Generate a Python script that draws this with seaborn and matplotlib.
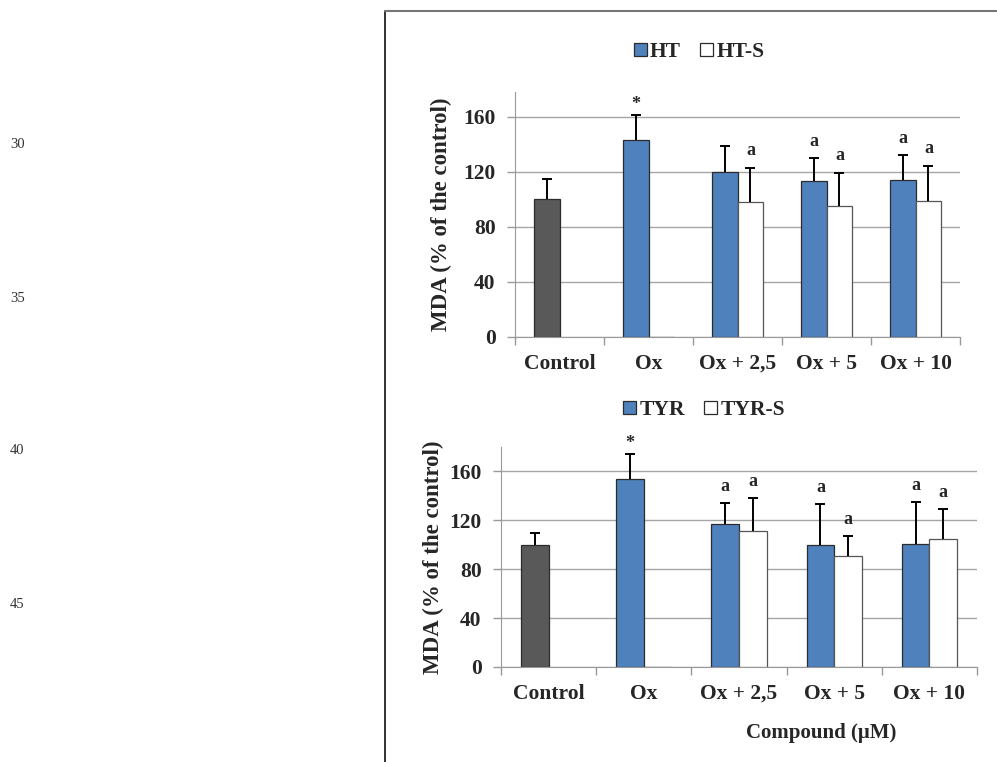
import numpy as np
import pandas as pd
import matplotlib
matplotlib.use('Agg')
import matplotlib.pyplot as plt
from matplotlib.lines import Line2D
import seaborn as sns

# valores (MDA, % do controle)
categorias = ['Control', 'Ox', 'Ox + 2,5', 'Ox + 5', 'Ox + 10']

ht_media = [100, 143, 120, 113, 114]
ht_erro = [15, 18.5, 18.5, 17, 18]
hts_media = [np.nan, 0, 98, 95, 99]
hts_erro = [np.nan, 0, 25, 24.5, 25.5]
ht_sig = ['', '*', '', 'a', 'a']
hts_sig = ['', '', 'a', 'a', 'a']

tyr_media = [100, 154, 117, 100, 101]
tyr_erro = [10, 20.5, 17, 33, 34]
tyrs_media = [np.nan, 0, 111, 91, 105]
tyrs_erro = [np.nan, 0, 27, 16, 24]
tyr_sig = ['', '*', 'a', 'a', 'a']
tyrs_sig = ['', '', 'a', 'a', 'a']

sns.set_style('white')
plt.rcParams['font.family'] = ['Liberation Serif', 'DejaVu Serif']
plt.rcParams['font.weight'] = 'bold'

AZUL = '#4F81BD'
CINZA = '#595959'


def monta_df(nomes, media_a, erro_a, media_b, erro_b, sig_a, sig_b):
    linhas = []
    for i, cat in enumerate(categorias):
        linhas.append([cat, nomes[0], media_a[i], erro_a[i], sig_a[i]])
        if not np.isnan(media_b[i]):
            linhas.append([cat, nomes[1], media_b[i], erro_b[i], sig_b[i]])
    return pd.DataFrame(linhas, columns=['trat', 'comp', 'mda', 'erro', 'sig'])


def painel(ax, df, nomes, ymax, leg_xy, ylab_x):
    sns.barplot(data=df, x='trat', y='mda', hue='comp', order=categorias,
                hue_order=nomes, palette=[AZUL, 'white'], width=0.58,
                dodge=True, errorbar=None, edgecolor='#2b2b2b', linewidth=0.9,
                saturation=1, ax=ax)
    for p in list(ax.patches):
        xc = p.get_x() + p.get_width() / 2
        i = int(round(xc))
        h = 0 if xc < i else 1
        linha = df[(df.trat == categorias[i]) & (df.comp == nomes[h])]
        if linha.empty:
            continue
        linha = linha.iloc[0]
        if i == 0:
            p.set_facecolor(CINZA)
        if h == 1:
            p.set_edgecolor('#555555')
        topo = p.get_height()
        if linha.erro > 0:
            _, caps, _ = ax.errorbar(xc, topo, yerr=[[0], [linha.erro]], fmt='none',
                                     ecolor='black', elinewidth=1.4, capsize=3.5,
                                     capthick=1.4)
            # só a barra de erro superior tem traço
            for c in caps:
                if np.allclose(c.get_ydata(), topo):
                    c.set_visible(False)
        if linha.sig:
            desl = 10 if linha.sig == '*' else 17
            ax.annotate(linha.sig, (xc, topo + linha.erro), xytext=(0, desl),
                        textcoords='offset pixels', ha='center', va='center',
                        fontsize=13, fontweight='bold')

    ax.set_xlim(-0.5, 4.5)
    ax.set_ylim(0, ymax)
    ax.set_yticks([0, 40, 80, 120, 160])
    ax.set_xticks(np.arange(-0.5, 5, 1), minor=True)
    ax.yaxis.grid(True, color='#a6a6a6', linewidth=1)
    ax.set_axisbelow(True)
    for s in ['top', 'right']:
        ax.spines[s].set_visible(False)
    for s in ['left', 'bottom']:
        ax.spines[s].set_color('#999999')
    ax.tick_params(axis='y', length=6, width=1, color='#999999', pad=8,
                   labelsize=15.5, left=True)
    ax.tick_params(axis='x', which='major', length=0, pad=12, labelsize=15.5)
    ax.tick_params(axis='x', which='minor', length=6, width=1,
                   color='#999999', direction='out', bottom=True)
    for t in ax.get_xticklabels() + ax.get_yticklabels():
        t.set_fontweight('bold')
    ax.set_xlabel('')
    ax.set_ylabel('MDA (% of the control)', fontsize=16.5, fontweight='bold')
    ax.yaxis.set_label_coords(ylab_x, 0.5)

    handles, labels = ax.get_legend_handles_labels()
    ax.legend(handles, labels, loc='center', bbox_to_anchor=leg_xy,
              bbox_transform=ax.figure.transFigure, ncol=2, frameon=False,
              handlelength=0.6, handleheight=0.6, handletextpad=0.15,
              columnspacing=0.9, prop={'size': 15.5, 'weight': 'bold'})


fig = plt.figure(figsize=(9.97, 7.62), dpi=100)
W, H = 997, 762

ax1 = fig.add_axes([515 / W, 1 - 337 / H, 445 / W, 245 / H])
ax2 = fig.add_axes([501 / W, 1 - 667 / H, 476 / W, 220 / H])

df_ht = monta_df(['HT', 'HT-S'], ht_media, ht_erro, hts_media, hts_erro, ht_sig, hts_sig)
df_tyr = monta_df(['TYR', 'TYR-S'], tyr_media, tyr_erro, tyrs_media, tyrs_erro, tyr_sig, tyrs_sig)

painel(ax1, df_ht, ['HT', 'HT-S'], 178, (699 / W, 1 - 52 / H), -0.142)
painel(ax2, df_tyr, ['TYR', 'TYR-S'], 180, (704 / W, 1 - 410 / H), -0.12)

fig.text(821 / W, 1 - 733 / H, 'Compound (\u03bcM)', ha='center', va='center',
         fontsize=15, fontweight='bold')

# moldura da página digitalizada
fig.add_artist(Line2D([385 / W, 385 / W], [0, 1 - 10.5 / H],
                      transform=fig.transFigure, color='#222222', lw=1.3))
fig.add_artist(Line2D([385 / W, 1], [1 - 11 / H, 1 - 11 / H],
                      transform=fig.transFigure, color='#777777', lw=1.5))

# numeração de linhas
for n, y in zip(['30', '35', '40', '45'], [144, 298, 451, 604]):
    fig.text(10 / W, 1 - y / H, n, fontsize=10.5, fontweight='normal',
             va='center', ha='left', color='#333333')

fig.savefig('out.png', dpi=100)
